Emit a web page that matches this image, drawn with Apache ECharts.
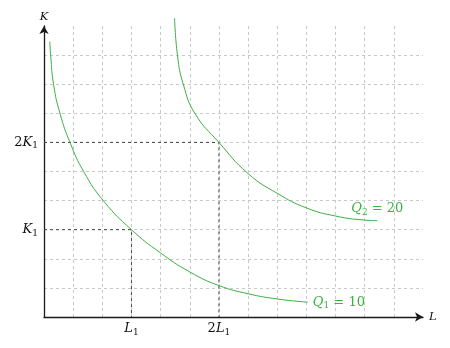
<!DOCTYPE html>
<html><head><meta charset="utf-8">
<script src="https://cdn.jsdelivr.net/npm/echarts@6/dist/echarts.min.js"></script>
<style>html,body{margin:0;padding:0;background:#fff}#c{width:450px;height:348px}</style>
</head><body><div id="c"></div>
<script>
// ---- data ----
const L1 = 3, K1 = 3;
const xTickValues = [3, 6];
const xTickLabels = ['L_1', '2L_1'];
const yTickValues = [3, 6];
const yTickLabels = ['K_1', '2K_1'];
const xName = 'L', yName = 'K';
const seriesNames = ['Q_1 = 10', 'Q_2 = 20'];
const q1L = [0.2, 0.23, 0.33, 0.55, 0.9, 1.36, 2.05, 3.0, 4.0, 5.0, 6.0, 7.0, 8.0, 9.05];
const q1K = [9.46, 8.97, 7.98, 6.99, 5.98, 5.0, 3.98, 3.0, 2.2, 1.55, 1.08, 0.8, 0.62, 0.51];
const q2L = [4.48, 4.58, 4.78, 5.18, 6.0, 7.0, 8.0, 9.0, 10.0, 11.0, 11.43];
const q2K = [10.27, 8.98, 7.99, 6.99, 6.0, 4.93, 4.25, 3.75, 3.47, 3.33, 3.31];

// ---- helpers ----
const FONT = 'DejaVu Serif';
function toRich(s) {
  return s.replace(/([A-Za-z])_(\d)|([^A-Za-z_]+)/g, (m, a, b, c) => a ? `{i|${a}}{s|${b}}` : `{n|${c}}`);
}
function richStyles(color) {
  return {
    n: {fontFamily: FONT, fontSize: 13, lineHeight: 16, color},
    i: {fontFamily: FONT, fontStyle: 'italic', fontSize: 13, lineHeight: 16, color},
    s: {fontFamily: FONT, fontSize: 9, lineHeight: 9, verticalAlign: 'bottom', color}
  };
}
function tickFormatter(values, labels) {
  return v => { const i = values.indexOf(v); return i >= 0 ? toRich(labels[i]) : ''; };
}
const zip = (a, b) => a.map((v, i) => [v, b[i]]);
const GREEN = '#3cb043';
const gridLine = {show: true, showMinLine: false, showMaxLine: false, lineStyle: {color: '#c8c8c8', type: [3, 3], width: 1}};
const axisLine = {show: true, symbol: ['none', 'arrow'], symbolSize: [7, 8], lineStyle: {color: '#1a1a1a', width: 1.3}};
const nameStyle = {fontFamily: FONT, fontStyle: 'italic', fontSize: 11.5, color: '#111'};

const chart = echarts.init(document.getElementById('c'));
chart.setOption({
  animation: false,
  backgroundColor: '#fff',
  grid: {left: 44, right: 27, top: 26, bottom: 31},
  xAxis: {
    type: 'value', min: 0, max: 13, interval: 1,
    axisLine, axisTick: {show: false}, splitLine: gridLine,
    axisLabel: {formatter: tickFormatter(xTickValues, xTickLabels), rich: richStyles('#111'), margin: 4},
    name: xName, nameLocation: 'end', nameGap: 6, nameTextStyle: nameStyle
  },
  yAxis: {
    type: 'value', min: 0, max: 10, interval: 1,
    axisLine, axisTick: {show: false}, splitLine: gridLine,
    axisLabel: {formatter: tickFormatter(yTickValues, yTickLabels), rich: richStyles('#111'), margin: 6},
    name: yName, nameLocation: 'end', nameGap: 3, nameTextStyle: Object.assign({align: 'center'}, nameStyle)
  },
  series: [
    {type: 'line', data: [[0, K1], [L1, K1], [L1, 0]], showSymbol: false, silent: true, z: 3,
     lineStyle: {color: '#444', width: 1, type: [3, 3]}},
    {type: 'line', data: [[0, 2 * K1], [2 * L1, 2 * K1], [2 * L1, 0]], showSymbol: false, silent: true, z: 3,
     lineStyle: {color: '#444', width: 1, type: [3, 3]}},
    {name: seriesNames[0], type: 'line', data: zip(q1L, q1K), smooth: 0.5, showSymbol: false, clip: false, z: 4,
     lineStyle: {color: GREEN, width: 1},
     endLabel: {show: true, distance: 5, formatter: () => toRich(seriesNames[0]), rich: richStyles(GREEN)}},
    {name: seriesNames[1], type: 'line', data: zip(q2L, q2K), smooth: 0.5, showSymbol: false, clip: false, z: 4,
     lineStyle: {color: GREEN, width: 1},
     endLabel: {show: true, distance: 5, offset: [-31, -12], formatter: () => toRich(seriesNames[1]), rich: richStyles(GREEN)}}
  ]
});
</script></body></html>
